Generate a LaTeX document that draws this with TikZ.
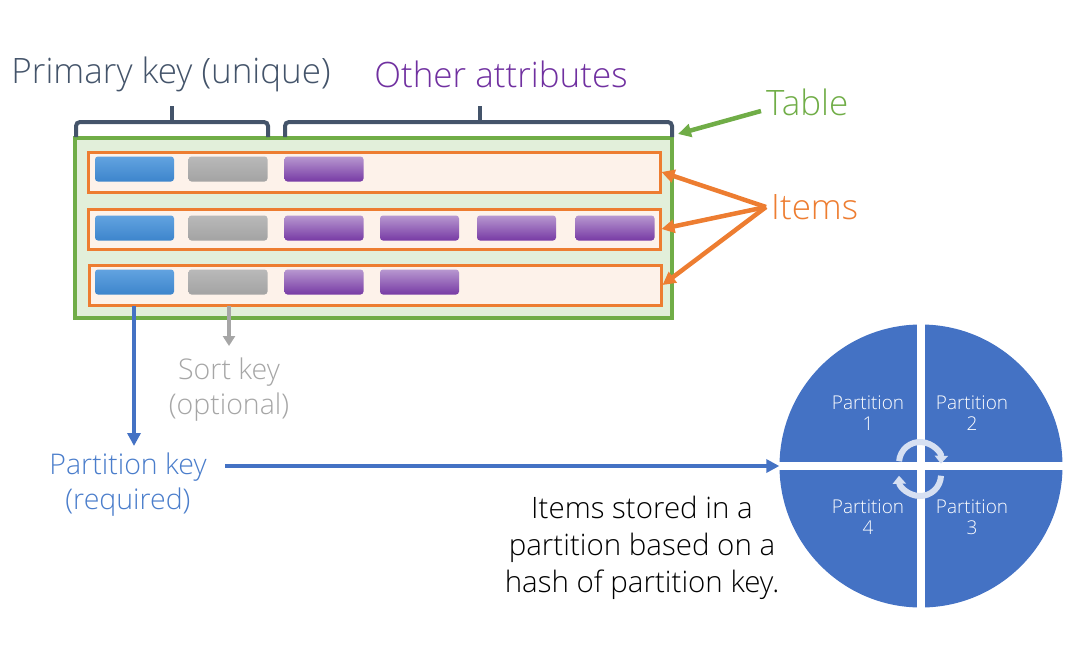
\documentclass[tikz,border=0pt]{standalone}
\usepackage{fontspec}
\setmainfont{Open Sans}[UprightFont=* Light]
\usetikzlibrary{arrows.meta}
\definecolor{slate}{HTML}{44546A}
\definecolor{purp}{HTML}{7030A0}
\definecolor{grn}{HTML}{70AD47}
\definecolor{orng}{HTML}{ED7D31}
\definecolor{blu}{HTML}{4472C4}
\definecolor{lblu}{HTML}{4A7DCB}
\definecolor{gry}{HTML}{A6A6A6}
\definecolor{celltop}{HTML}{62A3E0}
\definecolor{cellbot}{HTML}{3D85CC}
\tikzset{
  tablebox/.style={draw=grn,line width=3.5pt,fill=grn!20,minimum width=597pt,minimum height=180pt,inner sep=0pt},
  rowbox/.style={draw=orng,line width=3pt,fill=orng!10,minimum width=572pt,minimum height=40pt,inner sep=0pt},
  cell/.style={rounded corners=3pt,minimum width=79pt,minimum height=25pt,inner sep=0pt},
  bluecell/.style={cell,top color=celltop,bottom color=cellbot},
  graycell/.style={cell,top color=gray!55,bottom color=gray!72},
  purpcell/.style={cell,top color=purp!50,bottom color=purp!95},
  brace/.style={draw=slate,line width=4pt,rounded corners=4pt},
  arr/.style={-{Triangle[length=13pt,width=13pt]},line width=4.5pt},
  big/.style={font=\fontsize{35}{38}\selectfont,inner sep=0pt},
  mid/.style={font=\fontsize{28.5}{35}\selectfont,inner sep=0pt,align=center},
  plab/.style={font=\fontsize{19}{21}\selectfont,text=white,align=center,inner sep=0pt},
  rot/.style={line width=6pt,draw=blu!22,-{Triangle[length=8pt,width=13pt]}},
}
\begin{document}
\begin{tikzpicture}[x=1pt,y=-1pt]
\useasboundingbox (0,0) rectangle (1089,667);
% table and rows
\node[tablebox] (table) at (373.5,228) {};
\node[rowbox] (r1) at (374,172) {};
\node[rowbox] (r2) at (374,229) {};
\node[rowbox] (r3) at (375,285) {};
% cells
\foreach \r/\y in {1/169,2/228,3/282}{
  \node[bluecell] (b\r) at (134.5,\y) {};
  \node[graycell] (g\r) at (228,\y) {};
}
\node[purpcell] (p11) at (324,169) {};
\node[purpcell] (p21) at (324,228) {};
\node[purpcell] (p22) at (419.5,228) {};
\node[purpcell] (p23) at (516.5,228) {};
\node[purpcell] (p24) at (615,228) {};
\node[purpcell] (p31) at (324,282) {};
\node[purpcell] (p32) at (419.5,282) {};
% braces
\draw[brace] (76,137) -- (76,122) -- (268,122) -- (268,137);
\draw[draw=slate,line width=4pt] (172,122) -- (172,106);
\draw[brace] (285,137) -- (285,122) -- (672,122) -- (672,137);
\draw[draw=slate,line width=4pt] (480,122) -- (480,106);
% top labels
\node[big,text=slate] (pk) at (171,74) {Primary key (unique)};
\node[big,text=purp] (oa) at (501,74) {Other attributes};
\node[big,text=grn,anchor=west] (tl) at (766,102) {Table};
\node[big,text=orng,anchor=west] (il) at (771,207) {Items};
% table and items arrows
\coordinate (ts) at (761,111);
\draw[arr,draw=grn] (ts) -- (678,134);
\coordinate (is) at (766,207);
\draw[arr,draw=orng] (is) -- (r1.east);
\draw[arr,draw=orng] (is) -- (r2.east);
\draw[arr,draw=orng] (is) -- (r3.east);
% sort key
\node[mid,text=gry] (sk) at (229,390) {Sort key\\(optional)};
\draw[-{Triangle[length=10pt,width=12pt]},line width=4pt,draw=gry] (229,306) -- (229,346);
% partition key
\node[mid,text=lblu] (ptk) at (128,485) {Partition key\\(required)};
\draw[arr,draw=blu] (134,306) -- (134,446);
% circle
\node[circle,fill=blu,minimum size=283pt,inner sep=0pt] (circ) at (921,466) {};
\draw[white,line width=8pt] (921,320) -- (921,612);
\draw[white,line width=8pt] (775,466) -- (1067,466);
\coordinate (ps) at (225,466);
\draw[arr,draw=blu] (ps) -- (circ.west);
\node[plab] (q1) at (868,413) {Partition\\1};
\node[plab] (q2) at (972,413) {Partition\\2};
\node[plab] (q4) at (868,517) {Partition\\4};
\node[plab] (q3) at (972,517) {Partition\\3};
% rotation arrows
\coordinate (rc1) at (920,463);
\coordinate (rc2) at (920,475);
\draw[rot] (rc1) ++(185:21) arc[start angle=185,end angle=362,radius=21];
\draw[rot] (rc2) ++(2:21) arc[start angle=2,end angle=178,radius=21];
% caption
\node[font=\fontsize{29.5}{37}\selectfont,align=center,inner sep=0pt] (cap) at (642,548) {Items stored in a\\partition based on a\\hash of partition key.};
\end{tikzpicture}
\end{document}
